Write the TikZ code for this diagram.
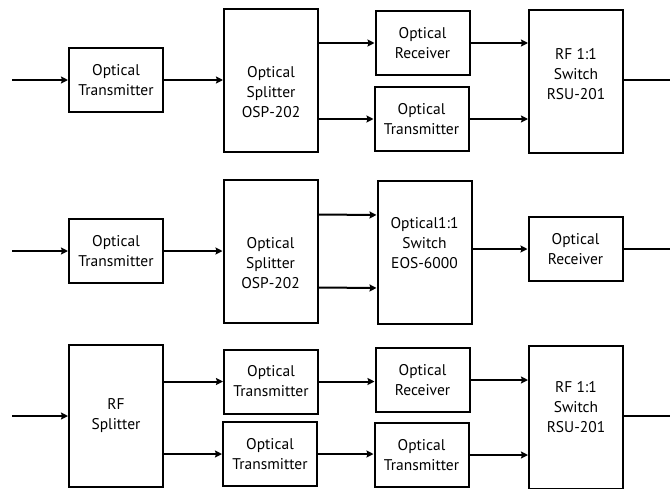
\documentclass[tikz,border=0pt]{standalone}
\usepackage{fontspec}
\setmainfont{PT Sans}
\usepackage{tikz}
\usetikzlibrary{arrows.meta, positioning}

\begin{document}
\begin{tikzpicture}[
		x=1pt, y=-1pt,
		line width=2pt,
		txt/.style={
				align=center,
				font=\fontsize{15.5}{20}\selectfont % text size and line spacing
			},
		blk/.style={
				draw,
				txt,
				inner sep=0pt,
				minimum width=94pt,
				minimum height=64pt
			},
		tall/.style={blk, minimum height=143pt},
		link/.style={->, >={Stealth[length=7pt, width=7pt, inset=1pt]}}
	]
	\clip (0,0) rectangle (670,488);

	% first chain
	\node[blk] (tx1) at (116,80) {Optical\\Transmitter};
	\node[tall, label={[txt, yshift=-12pt]center:Optical\\Splitter\\OSP-202}] (sp1) at (271,80.5) {};
	\node[blk] (rx1) at (422.5,43) {Optical\\Receiver};
	\node[blk] (tx1b) at (421.5,119) {Optical\\Transmitter};
	\node[tall, label={[txt, yshift=7.5pt]center:RF 1:1\\Switch\\RSU-201}] (sw1) at (576,81.5) {};
	\coordinate (in1) at (12,80);
	\coordinate (out1) at (670,80);

	\draw[link] (in1) -- (tx1);
	\draw[link] (tx1.east) -- (sp1.west |- tx1.east);
	\draw[link] (sp1.east |- rx1) -- (rx1);
	\draw[link] (sp1.east |- tx1b) -- (tx1b);
	\draw[link] (rx1) -- (sw1.west |- rx1);
	\draw[link] (tx1b) -- (sw1.west |- tx1b);
	\draw (sw1.east |- out1) -- (out1);

	% second chain
	\node[blk] (tx2) at (116,251) {Optical\\Transmitter};
	\node[tall, label={[txt, yshift=-12pt]center:Optical\\Splitter\\OSP-202}] (sp2) at (270.5,251.5) {};
	\node[tall, label={[txt, yshift=8.5pt]center:Optical1:1\\Switch\\EOS-6000}] (osw) at (424.5,252) {};
	\node[blk] (rx2) at (575.5,249) {Optical\\Receiver};
	\coordinate (in2) at (12,251);
	\coordinate (out2) at (670,249);

	\draw[link] (in2) -- (tx2);
	\draw[link] (tx2.east) -- (sp2.west |- tx2.east);
	\draw[link] ([yshift=37pt]sp2.east) -- ([yshift=37pt]osw.west);
	\draw[link] ([yshift=-36pt]sp2.east) -- ([yshift=-36pt]osw.west);
	\draw[link] (osw.east |- rx2) -- (rx2);
	\draw (rx2) -- (out2);

	% third chain
	\node[tall, minimum height=142pt] (rfs) at (116,416) {RF\\Splitter};
	\node[blk] (txa) at (271,381.5) {Optical\\Transmitter};
	\node[blk] (txb) at (270,454) {Optical\\Transmitter};
	\node[blk] (rx3) at (422.5,380) {Optical\\Receiver};
	\node[blk] (tx3) at (421.5,455) {Optical\\Transmitter};
	\node[tall, label={[txt, yshift=10pt]center:RF 1:1\\Switch\\RSU-201}] (sw3) at (576,417.5) {};
	\coordinate (in3) at (12,416);
	\coordinate (out3) at (670,416);

	\draw[link] (in3) -- (rfs);
	\draw[link] (rfs.east |- txa) -- (txa);
	\draw[link] (rfs.east |- txb) -- (txb);
	\draw[link] (txa) -- (rx3.west |- txa);
	\draw[link] (txb) -- (tx3.west |- txb);
	\draw[link] (rx3) -- (sw3.west |- rx3);
	\draw[link] (tx3) -- (sw3.west |- tx3);
	\draw (sw3.east |- out3) -- (out3);
\end{tikzpicture}
\end{document}
